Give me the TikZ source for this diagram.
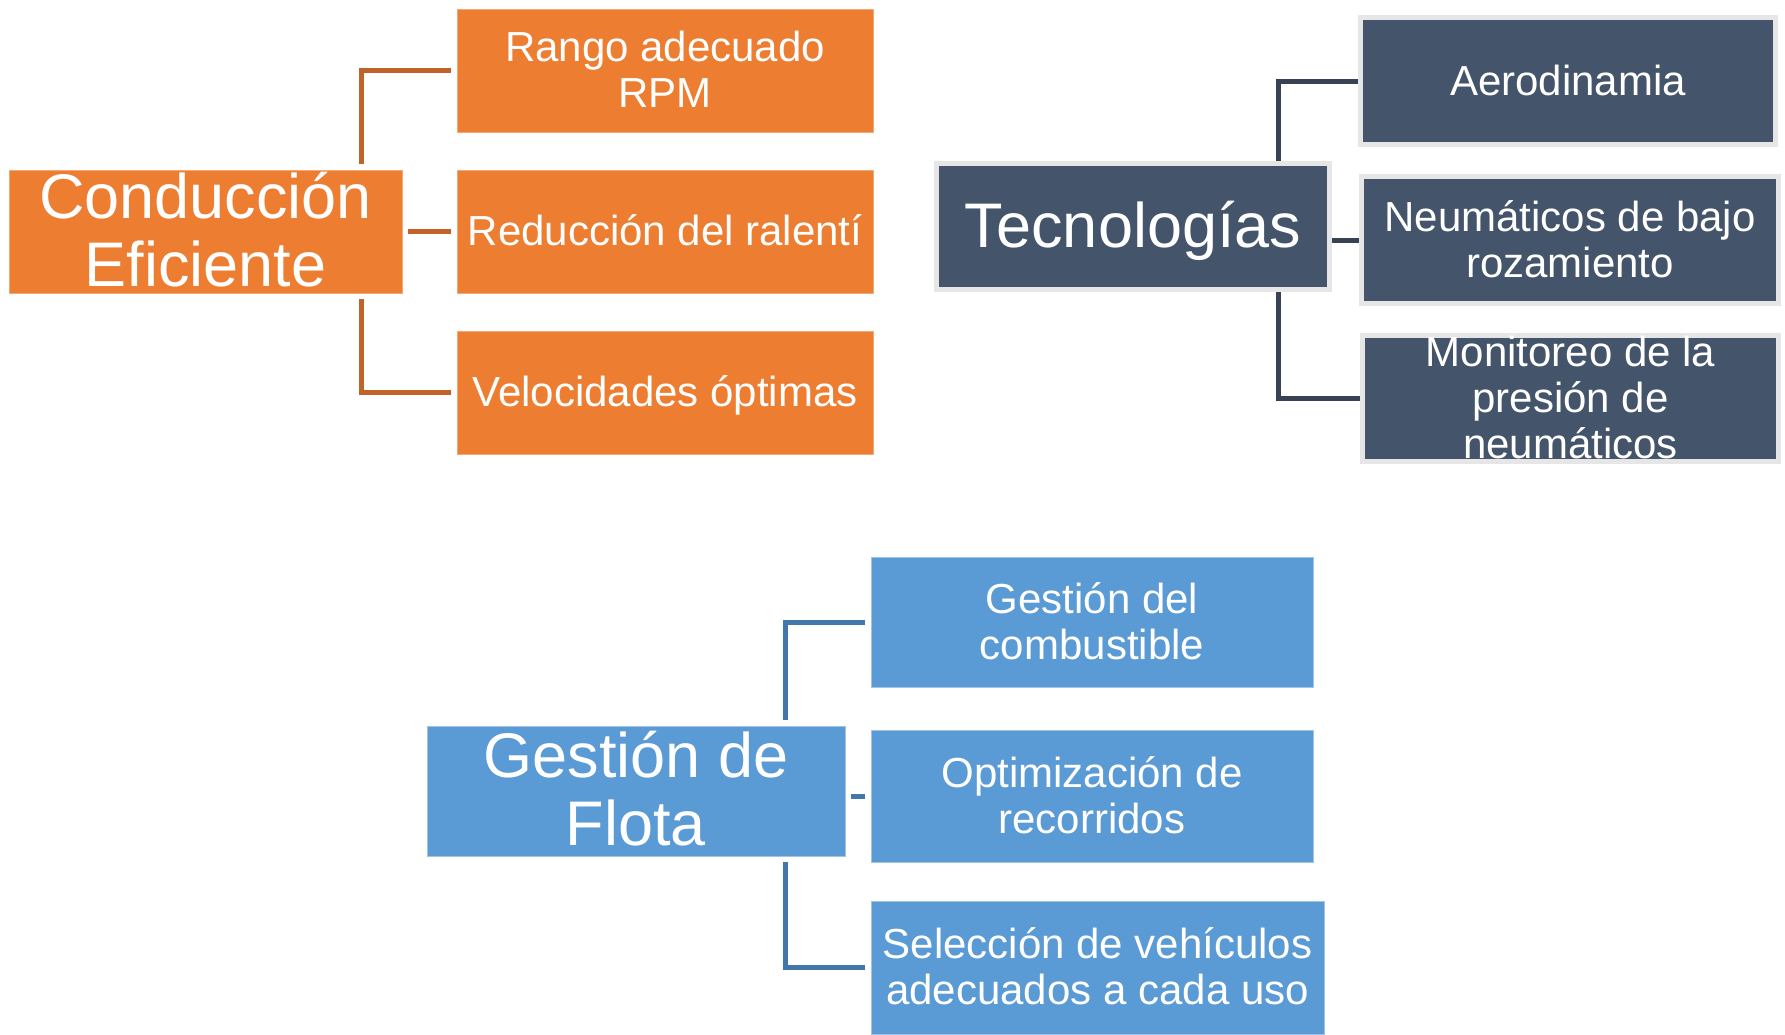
\documentclass[tikz,border=0pt]{standalone}
\usepackage{fontspec}
\setmainfont{Liberation Sans}
\definecolor{oFill}{RGB}{237,125,49}
\definecolor{oLine}{RGB}{192,98,42}
\definecolor{oEdge}{RGB}{243,168,118}
\definecolor{dFill}{RGB}{68,84,106}
\definecolor{dLine}{RGB}{55,66,84}
\definecolor{dEdge}{RGB}{230,230,230}
\definecolor{bFill}{RGB}{91,155,213}
\definecolor{bLine}{RGB}{65,119,170}
\definecolor{bEdge}{RGB}{160,196,230}
\newcommand\cst{\rule[-0.2em]{0pt}{1.08em}}
\newcommand\pst{\rule[-0.2em]{0pt}{1.06em}}
\begin{document}
\begin{tikzpicture}[x=1pt,y=-1pt,
  box/.style={rectangle, inner sep=0pt, align=center, text=white},
  pfont/.style={font=\fontsize{63}{68}\selectfont},
  cfont/.style={font=\fontsize{42}{46}\selectfont},
  obox/.style={box, fill=oFill, draw=oEdge, line width=1pt, outer sep=6pt},
  dbox/.style={box, fill=dFill, draw=dEdge, line width=5pt, outer sep=2.5pt},
  bbox/.style={box, fill=bFill, draw=bEdge, line width=1pt, outer sep=6pt},
  oline/.style={draw=oLine, line width=5pt},
  dline/.style={draw=dLine, line width=5pt},
  bline/.style={draw=bLine, line width=5pt}]
\useasboundingbox (0,0) rectangle (1785,1034);

% Conduccion eficiente
\node[obox,minimum width=393,minimum height=123] (ce) at (205.5,231.5) {};
\node[box,pfont] (ceT) at (ce.center) {Conducción\pst\\Eficiente\pst};
\node[obox,cfont,minimum width=416,minimum height=123] (c1) at (665,70.5) {Rango adecuado\cst\\RPM\cst};
\node[obox,cfont,minimum width=416,minimum height=123] (c2) at (665,231.5) {Reducción del ralentí\cst};
\node[obox,cfont,minimum width=416,minimum height=123] (c3) at (665,392.5) {Velocidades óptimas\cst};
\coordinate (ceV) at (361.5,0);
\draw[oline] (ce.north -| ceV) |- (c1.west);
\draw[oline] (ce.east |- c2.west) -- (c2.west);
\draw[oline] (ce.south -| ceV) |- (c3.west);

% Tecnologias
\node[dbox,pfont,minimum width=393,minimum height=126] (tec) at (1133,226.5) {Tecnologías\pst};
\node[dbox,cfont,minimum width=415,minimum height=127] (t1) at (1568,81) {Aerodinamia\cst};
\node[dbox,cfont,minimum width=417,minimum height=127] (t2) at (1570,240) {Neumáticos de bajo\cst\\rozamiento\cst};
\node[dbox,minimum width=416,minimum height=126] (t3) at (1570.5,398.5) {};
\node[box,cfont] (t3t) at (t3.center) {Monitoreo de la\cst\\presión de\cst\\neumáticos\cst};
\coordinate (tecV) at (1278.5,0);
\draw[dline] (tec.north -| tecV) |- (t1.west);
\draw[dline] (tec.east |- t2.west) -- (t2.west);
\draw[dline] (tec.south -| tecV) |- (t3.west);

% Gestion de flota
\node[bbox,minimum width=418,minimum height=130] (gf) at (636,791) {};
\node[box,pfont] (gfT) at (gf.center) {Gestión de\pst\\Flota\pst};
\node[bbox,cfont,minimum width=442,minimum height=130] (g1) at (1092,622) {Gestión del\cst\\combustible\cst};
\node[bbox,cfont,minimum width=442,minimum height=132] (g2) at (1092,796) {Optimización de\cst\\recorridos\cst};
\node[bbox,cfont,minimum width=453,minimum height=133] (g3) at (1097.5,967.5) {Selección de vehículos\cst\\adecuados a cada uso\cst};
\coordinate (gfV) at (785.5,0);
\draw[bline] (gf.north -| gfV) |- (g1.west);
\draw[bline] (gf.east |- g2.west) -- (g2.west);
\draw[bline] (gf.south -| gfV) |- (g3.west);
\end{tikzpicture}
\end{document}
